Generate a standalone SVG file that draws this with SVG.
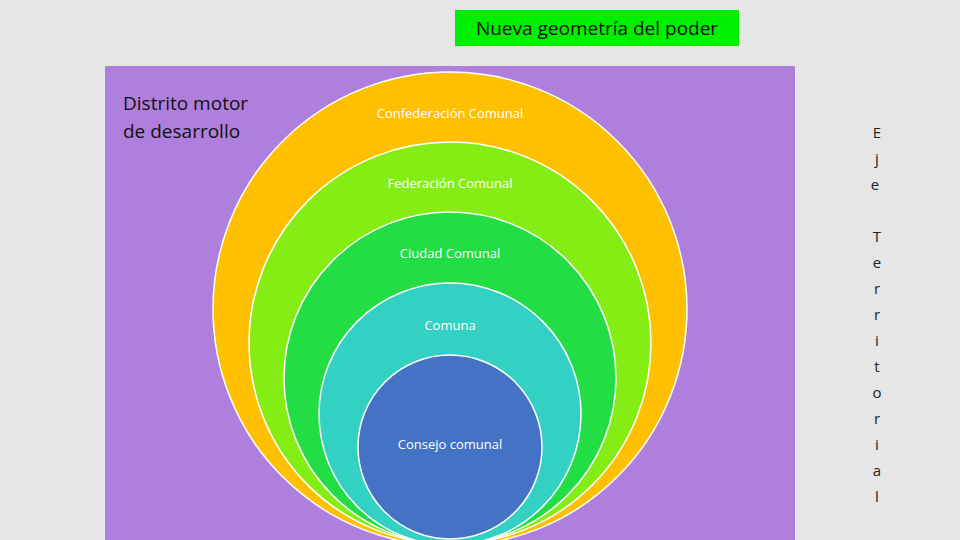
<svg xmlns="http://www.w3.org/2000/svg" width="960" height="540" viewBox="0 0 960 540">
<style>
.c{stroke:#fff;stroke-width:1.5}
.t{font-family:"Open Sans","Liberation Sans",sans-serif;font-size:13px;fill:#fff;text-anchor:middle}
.v{font-family:"Open Sans","Liberation Sans",sans-serif;font-size:15px;fill:#222;text-anchor:middle}
</style>
<rect width="960" height="540" fill="#e6e6e6"/>
<rect x="105" y="66" width="690" height="474" fill="#ae7fdc"/>
<g id="title"><rect x="455" y="10" width="284" height="36" fill="#00ee00"/>
<text x="597" y="35" font-family="Open Sans,Liberation Sans,sans-serif" font-size="19" fill="#111" text-anchor="middle">Nueva geometría del poder</text></g>
<g id="distrito"><text font-family="Open Sans,Liberation Sans,sans-serif" font-size="19" fill="#111"><tspan x="123" y="110">Distrito motor</tspan><tspan x="123" y="138">de desarrollo</tspan></text></g>
<g id="confederacion"><circle class="c" cx="450" cy="309" r="237" fill="#ffc000"/><text class="t" x="450" y="118">Confederación Comunal</text></g>
<g id="federacion"><circle class="c" cx="450" cy="343" r="201" fill="#84ee14"/><text class="t" x="450" y="188">Federación Comunal</text></g>
<g id="ciudad"><circle class="c" cx="450" cy="378" r="166" fill="#22dd44"/><text class="t" x="450" y="258">Ciudad Comunal</text></g>
<g id="comuna"><circle class="c" cx="450" cy="414" r="131" fill="#33d0c4"/><text class="t" x="450" y="330">Comuna</text></g>
<g id="consejo"><circle class="c" cx="450" cy="447" r="92" fill="#4472c4"/><text class="t" x="450" y="449">Consejo comunal</text></g>
<g id="eje"><text class="v">
<tspan x="877" y="138">E</tspan><tspan x="877" y="164">j</tspan><tspan x="877" y="190">e</tspan>
<tspan x="877" y="242">T</tspan><tspan x="877" y="268">e</tspan><tspan x="877" y="294">r</tspan><tspan x="877" y="320">r</tspan><tspan x="877" y="346">i</tspan><tspan x="877" y="372">t</tspan><tspan x="877" y="398">o</tspan><tspan x="877" y="424">r</tspan><tspan x="877" y="450">i</tspan><tspan x="877" y="476">a</tspan><tspan x="877" y="502">l</tspan>
</text></g>
<g id="connectors"/>
</svg>
